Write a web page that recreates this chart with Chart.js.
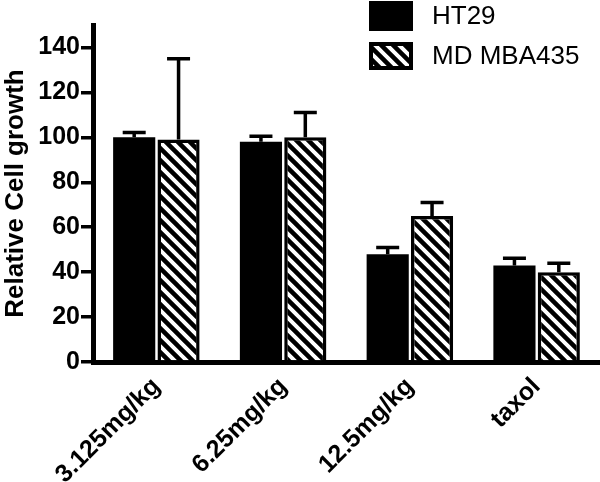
<!DOCTYPE html>
<html>
<head>
<meta charset="utf-8">
<script src="https://cdn.jsdelivr.net/npm/chart.js@4/dist/chart.umd.min.js"></script>
<style>
  html, body { margin: 0; padding: 0; background: #fff; }
  #wrap { width: 600px; height: 482px; }
</style>
</head>
<body>
<div id="wrap"><canvas id="growthChart" width="600" height="482"></canvas></div>
<script>
// data
var categories = ['3.125mg/kg', '6.25mg/kg', '12.5mg/kg', 'taxol'];
var seriesNames = ['HT29', 'MD MBA435'];
var ht29Values = [100, 98, 48, 43];
var ht29Errors = [2.2, 2.5, 3, 3.2];
var mdaValues = [99, 100, 65, 40];
var mdaErrors = [36, 11, 6, 4];
var yTicks = [0, 20, 40, 60, 80, 100, 120, 140];

var FONT = '"Liberation Sans", Arial, sans-serif';

// diagonal hatch pattern (\\\ stripes)
function makeHatch() {
    var size = 12;
    var c = document.createElement('canvas');
    c.width = size; c.height = size;
    var g = c.getContext('2d');
    g.fillStyle = '#fff';
    g.fillRect(0, 0, size, size);
    g.strokeStyle = '#000';
    g.lineWidth = 4.5;
    g.beginPath();
    for (var k = -1; k <= 1; k++) {
        g.moveTo(k * size - 2, -2);
        g.lineTo(k * size + size + 2, size + 2);
    }
    g.stroke();
    return g.createPattern(c, 'repeat');
}
var hatch = makeHatch();

// upward error bars
var errorBars = {
    id: 'errorBars',
    afterDatasetsDraw: function(chart) {
        var ctx = chart.ctx;
        var yScale = chart.scales.y;
        ctx.save();
        ctx.strokeStyle = '#000';
        ctx.lineWidth = 3.5;
        chart.data.datasets.forEach(function(ds, i) {
            var meta = chart.getDatasetMeta(i);
            meta.data.forEach(function(bar, j) {
                var top = yScale.getPixelForValue(ds.data[j] + ds.errors[j]);
                ctx.beginPath();
                ctx.moveTo(bar.x, bar.y);
                ctx.lineTo(bar.x, top);
                ctx.moveTo(bar.x - 11.5, top);
                ctx.lineTo(bar.x + 11.5, top);
                ctx.stroke();
            });
        });
        ctx.restore();
    }
};

// legend drawn over the top right corner, as in the figure
var cornerLegend = {
    id: 'cornerLegend',
    afterDraw: function(chart) {
        var ctx = chart.ctx;
        ctx.save();
        var x = 369, w = 44;
        var rows = [{y: 1, h: 30}, {y: 42, h: 28}];
        chart.data.datasets.forEach(function(ds, i) {
            var r = rows[i];
            ctx.fillStyle = ds.backgroundColor;
            ctx.fillRect(x, r.y, w, r.h);
            if (i === 1) {
                ctx.strokeStyle = '#000';
                ctx.lineWidth = 4;
                ctx.strokeRect(x + 2, r.y + 2, w - 4, r.h - 4);
            }
            ctx.fillStyle = '#000';
            ctx.font = '26px ' + FONT;
            ctx.textBaseline = 'middle';
            ctx.textAlign = 'left';
            ctx.fillText(ds.label, 432, r.y + r.h / 2 + 1);
        });
        ctx.restore();
    }
};

var ctx = document.getElementById('growthChart').getContext('2d');
var chart = new Chart(ctx, {
    type: 'bar',
    data: {
        labels: categories,
        datasets: [{
            label: seriesNames[0],
            data: ht29Values,
            errors: ht29Errors,
            backgroundColor: '#000',
            borderWidth: 0
        }, {
            label: seriesNames[1],
            data: mdaValues,
            errors: mdaErrors,
            backgroundColor: hatch,
            borderColor: '#000',
            borderWidth: 3.5
        }]
    },
    options: {
        responsive: false,
        animation: false,
        categoryPercentage: 0.7,
        barPercentage: 0.95,
        layout: { padding: { top: 25, right: 0, left: 0, bottom: 0 } },
        plugins: {
            legend: { display: false },
            tooltip: { enabled: false }
        },
        scales: {
            x: {
                grid: { display: false },
                border: { display: true, color: '#000', width: 5 },
                ticks: {
                    color: '#000',
                    font: { family: FONT, size: 25, weight: 'bold' },
                    minRotation: 45,
                    maxRotation: 45,
                    autoSkip: false,
                    padding: 2
                },
                afterFit: function(s) { s.height = 120; }
            },
            y: {
                min: 0,
                max: 150,
                afterBuildTicks: function(s) {
                    s.ticks = yTicks.map(function(v) { return { value: v }; });
                },
                grid: {
                    display: true,
                    drawOnChartArea: false,
                    drawTicks: true,
                    tickLength: 12,
                    color: '#000',
                    lineWidth: 3.5
                },
                border: { display: true, color: '#000', width: 5 },
                ticks: {
                    color: '#000',
                    font: { family: FONT, size: 25, weight: 'bold' },
                    padding: 1
                },
                title: {
                    display: true,
                    text: 'Relative Cell growth',
                    color: '#000',
                    font: { family: FONT, size: 26, weight: 'bold' },
                    padding: { top: 0, bottom: 0 }
                },
                afterFit: function(s) { s.width = 93; }
            }
        }
    },
    plugins: [errorBars, cornerLegend]
});
</script>
</body>
</html>
